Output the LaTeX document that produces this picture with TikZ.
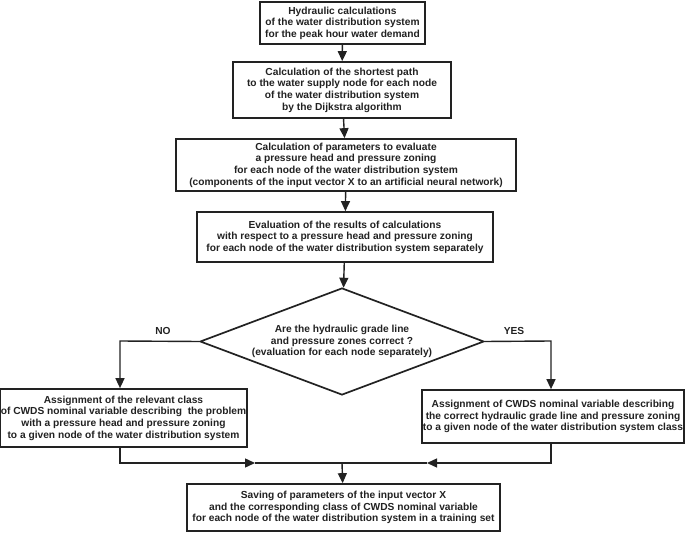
\documentclass[tikz,border=0pt]{standalone}
\usepackage{fontspec}
\setmainfont{Liberation Sans}
\usetikzlibrary{shapes.geometric,arrows.meta}
\definecolor{ink}{HTML}{222222}
\tikzset{
  box/.style={draw=ink, line width=1.7pt, fill=white, align=center, inner sep=1pt,
     font=\fontsize{10.2}{11.6}\selectfont\bfseries, text=ink},
  conn/.style={draw=ink, line width=1.4pt},
  arr/.style={conn, -{Triangle[length=10pt,width=9pt]}},
  lbl/.style={font=\fontsize{10.2}{11.6}\selectfont\bfseries, text=ink}
}
\begin{document}
\begin{tikzpicture}[x=1pt,y=-1pt]
\useasboundingbox (0,0) rectangle (685,534);
\node[box, minimum width=165pt, minimum height=42pt] (b1) at (342.5,23)
  {Hydraulic calculations\\of the water distribution system\\for the peak hour water demand};
\node[box, minimum width=218pt, minimum height=56pt] (b2) at (342,90)
  {Calculation of the shortest path\\to the water supply node for each node\\of the water distribution system\\by the Dijkstra algorithm};
\node[box, minimum width=340pt, minimum height=52pt] (b3) at (346,165)
  {Calculation of parameters to evaluate\\a pressure head and pressure zoning\\for each node of the water distribution system\\(components of the input vector X to an artificial neural network)};
\node[box, minimum width=296pt, minimum height=50pt] (b4) at (345,237)
  {Evaluation of the results of calculations\\with respect to a pressure head and pressure zoning\\for each node of the water distribution system separately};
\node[box, shape=diamond, aspect=2.65, inner sep=0pt, minimum width=284pt, minimum height=107pt] (dec) at (342,341.5)
  {Are the hydraulic grade line\\and pressure zones correct ?\\(evaluation for each node separately)};
\node[box, minimum width=243pt, minimum height=58pt] (b5) at (123.5,418)
  {Assignment of the relevant class\\of CWDS nominal variable describing\ \ the problem\\with a pressure head and pressure zoning\\to a given node of the water distribution system};
\node[box, minimum width=260pt, minimum height=53pt] (b6) at (553,416.5)
  {Assignment of CWDS nominal variable describing\\the correct hydraulic grade line and pressure zoning\\to a given node of the water distribution system class};
\node[box, minimum width=313pt, minimum height=47pt] (b7) at (343.5,507.5)
  {Saving of parameters of the input vector X\\and the corresponding class of CWDS nominal variable\\for each node of the water distribution system in a training set};

\node[lbl] (no) at (163,331) {NO};
\node[lbl] (yes) at (514,331) {YES};

\coordinate (nl) at (120,341);
\coordinate (yr) at (551,341);
\coordinate (m) at (342,463);
\coordinate (ml) at (255,463);
\coordinate (mr) at (427,463);

\draw[arr] (b1) -- (b2);
\draw[arr] (b2) -- (b3);
\draw[arr] (b3) -- (b4);
\draw[arr] (b4) -- (dec);
\draw[arr] (dec.west) -- (nl) -- (nl |- b5.north);
\draw[arr] (dec.east) -- (yr) -- (yr |- b6.north);
\draw[arr] (nl |- b5.south) -- (nl |- m) -- (ml);
\draw[conn] (ml) -- (m);
\draw[arr] (yr |- b6.south) -- (yr |- m) -- (mr);
\draw[conn] (mr) -- (m);
\draw[arr] (m) -- (b7);
\end{tikzpicture}
\end{document}
